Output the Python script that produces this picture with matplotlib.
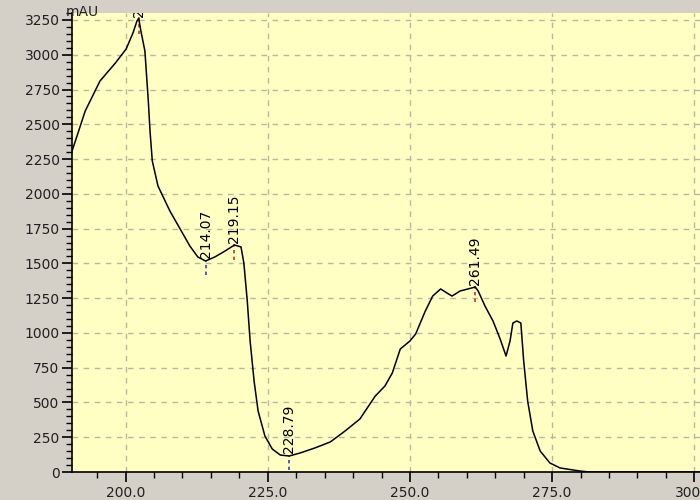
import matplotlib
matplotlib.use("Agg")
import matplotlib.pyplot as plt
from matplotlib.ticker import MultipleLocator, FormatStrFormatter

wavelength = [190.6, 192.9, 195.5, 198.2, 200.1, 201.3, 202.0, 202.3, 202.7, 203.4, 204.0, 204.3,
              204.7, 205.7, 207.8, 209.6, 211.3, 212.7, 214.07, 215.7, 217.5, 219.15, 220.3, 220.8,
              221.4, 221.9, 222.6, 223.3, 224.5, 225.8, 227.2, 228.79, 230.7, 233.3, 236.0, 238.6,
              241.2, 243.9, 245.6, 246.9, 248.3, 250.0, 251.0, 252.7, 254.0, 255.4, 256.5, 257.4,
              258.8, 260.2, 261.49, 262.0, 263.2, 264.6, 265.8, 266.9, 267.6, 268.1, 268.8, 269.5,
              270.0, 270.7, 271.6, 272.9, 274.6, 276.4, 279.9, 281.6, 301.0]
absorbance = [2308, 2595, 2811, 2940, 3041, 3156, 3242, 3262, 3170, 3027, 2667, 2451,
              2236, 2056, 1876, 1747, 1625, 1546, 1517, 1546, 1589, 1632, 1618, 1502,
              1229, 942, 654, 439, 259, 165, 122, 115, 137, 173, 216, 295,
              381, 546, 618, 712, 884, 942, 992, 1157, 1265, 1316, 1287, 1265,
              1301, 1316, 1330, 1301, 1193, 1086, 963, 834, 942, 1071, 1086, 1071,
              798, 510, 295, 151, 65, 29, 7, 0, 0]

peak_labels = ["202.35", "219.15", "261.49"]
peak_x = [202.3, 219.15, 261.49]
peak_y = [3262, 1632, 1330]
valley_labels = ["214.07", "228.79"]
valley_x = [214.07, 228.79]
valley_y = [1517, 115]

plt.rcParams['font.family'] = ['DejaVu Sans']
fig = plt.figure(figsize=(7, 5), dpi=100, facecolor='#D4D0C8')
ax = fig.add_axes([0.103, 0.056, 0.897, 0.918])
ax.set_facecolor('#FFFFC4')

ax.plot(wavelength, absorbance, color='black', lw=1.1, zorder=3)

for lab, x, y in zip(peak_labels, peak_x, peak_y):
    ax.plot([x, x], [y - 110, y + 10], color='#D03020', lw=1.2, ls=(0, (2, 2)), zorder=2)
    ax.text(x, y + 12, lab, rotation=90, ha='center', va='bottom', fontsize=10,
            clip_on=True, zorder=4)
for lab, x, y in zip(valley_labels, valley_x, valley_y):
    ax.plot([x, x], [y - 100, y], color='#3040B0', lw=1.2, ls=(0, (2, 2)), zorder=2)
    ax.text(x, y + 20, lab, rotation=90, ha='center', va='bottom', fontsize=10,
            clip_on=True, zorder=4)

ax.set_xlim(190.6, 301.0)
ax.set_ylim(0, 3300)
ax.xaxis.set_major_locator(MultipleLocator(25))
ax.xaxis.set_minor_locator(MultipleLocator(5))
ax.yaxis.set_major_locator(MultipleLocator(250))
ax.yaxis.set_minor_locator(MultipleLocator(50))
ax.xaxis.set_major_formatter(FormatStrFormatter('%.1f'))

ax.grid(True, which='major', color='#B8B8A0', lw=1.0, ls=(0, (4, 4)))
for s in ['top', 'right']:
    ax.spines[s].set_visible(False)
for s in ['left', 'bottom']:
    ax.spines[s].set_color('black')
    ax.spines[s].set_linewidth(1.2)

ax.tick_params(axis='both', which='major', direction='out', length=7, width=1.2,
               labelsize=10, color='black', labelcolor='#202020')
ax.tick_params(axis='both', which='minor', direction='out', length=4, width=1.0, color='black')
ax.tick_params(axis='y', pad=2)
ax.tick_params(axis='x', pad=3)

fig.text(0.117, 0.99, 'mAU', ha='center', va='top', fontsize=10, color='#202020')

fig.savefig('out.png', dpi=100, facecolor=fig.get_facecolor())
